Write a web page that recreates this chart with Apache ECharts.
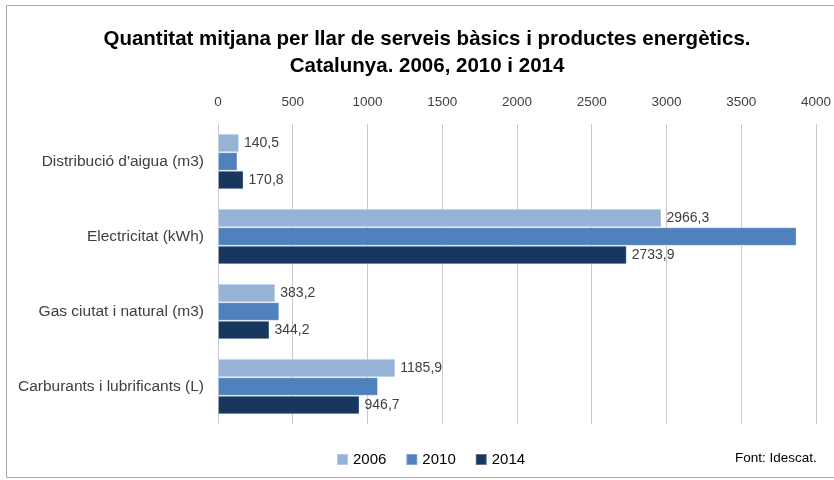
<!DOCTYPE html>
<html>
<head>
<meta charset="utf-8">
<script src="https://cdn.jsdelivr.net/npm/echarts@6/dist/echarts.min.js"></script>
<style>
  html, body { margin: 0; padding: 0; background: #fff; }
  #main { width: 834px; height: 480px; }
</style>
</head>
<body>
<div id="main"></div>
<script>
(function() {
  const categories = [
    'Distribució d\'aigua (m3)',
    'Electricitat (kWh)',
    'Gas ciutat i natural (m3)',
    'Carburants i lubrificants (L)'
  ];
  const years = ['2006', '2010', '2014'];
  const values2006 = [140.5, 2966.3, 383.2, 1185.9];
  const values2010 = [130, 3870, 410, 1070];
  const values2014 = [170.8, 2733.9, 344.2, 946.7];
  const xTicks = [0, 500, 1000, 1500, 2000, 2500, 3000, 3500, 4000];

  const colors = ['#95b3d7', '#4f81bd', '#17375e'];
  const font = '"Liberation Sans", Arial, sans-serif';

  const myChart = echarts.init(document.getElementById('main'));

  function fmt(v) {
    return String(v).replace('.', ',');
  }

  function makeSeries(name, data, color, showLabel) {
    return {
      name: name,
      type: 'bar',
      data: data,
      barWidth: 18.5,
      barGap: '0%',
      itemStyle: { color: color, borderColor: 'rgba(255,255,255,0.3)', borderWidth: 1 },
      label: {
        show: showLabel,
        position: 'right',
        distance: 5,
        color: '#404040',
        fontFamily: font,
        fontSize: 14,
        formatter: function (p) { return fmt(p.value); }
      },
      silent: true
    };
  }

  const option = {
    backgroundColor: '#fff',
    animation: false,
    title: {
      text: 'Quantitat mitjana per llar de serveis bàsics i productes energètics.\nCatalunya. 2006, 2010 i 2014',
      left: 422,
      textAlign: 'center',
      top: 21,
      textStyle: {
        fontFamily: font,
        fontSize: 20.5,
        fontWeight: 'bold',
        color: '#000',
        lineHeight: 27
      }
    },
    legend: {
      data: years,
      left: 331,
      top: 447,
      itemWidth: 11,
      itemHeight: 11,
      itemGap: 19,
      icon: 'rect',
      textStyle: { fontFamily: font, fontSize: 15, color: '#000' }
    },
    grid: { left: 218, right: 18, top: 124, bottom: 56, containLabel: false },
    xAxis: {
      type: 'value',
      position: 'top',
      min: 0,
      max: 4000,
      interval: 500,
      axisLine: { show: false },
      axisTick: { show: false },
      splitLine: { show: true, lineStyle: { color: '#c8c8c8', width: 1 } },
      axisLabel: {
        color: '#404040',
        fontFamily: font,
        fontSize: 13.5,
        margin: 15,
        formatter: function (v) { return xTicks.indexOf(v) >= 0 ? String(v) : ''; }
      }
    },
    yAxis: {
      type: 'category',
      data: categories,
      inverse: true,
      axisLine: { show: true, lineStyle: { color: '#c8c8c8' } },
      axisTick: { show: false },
      axisLabel: {
        color: '#404040',
        fontFamily: font,
        fontSize: 15.5,
        margin: 14
      }
    },
    graphic: [
      {
        type: 'rect',
        shape: { x: 6.5, y: 5.5, width: 840, height: 472 },
        style: { fill: 'none', stroke: '#a6a6a6', lineWidth: 1 },
        silent: true
      },
      {
        type: 'text',
        left: 735,
        top: 451,
        style: { text: 'Font: Idescat.', fontFamily: font, fontSize: 13.5, fill: '#000' }
      }
    ],
    series: [
      makeSeries(years[0], values2006, colors[0], true),
      makeSeries(years[1], values2010, colors[1], false),
      makeSeries(years[2], values2014, colors[2], true)
    ]
  };

  myChart.setOption(option);
})();
</script>
</body>
</html>
